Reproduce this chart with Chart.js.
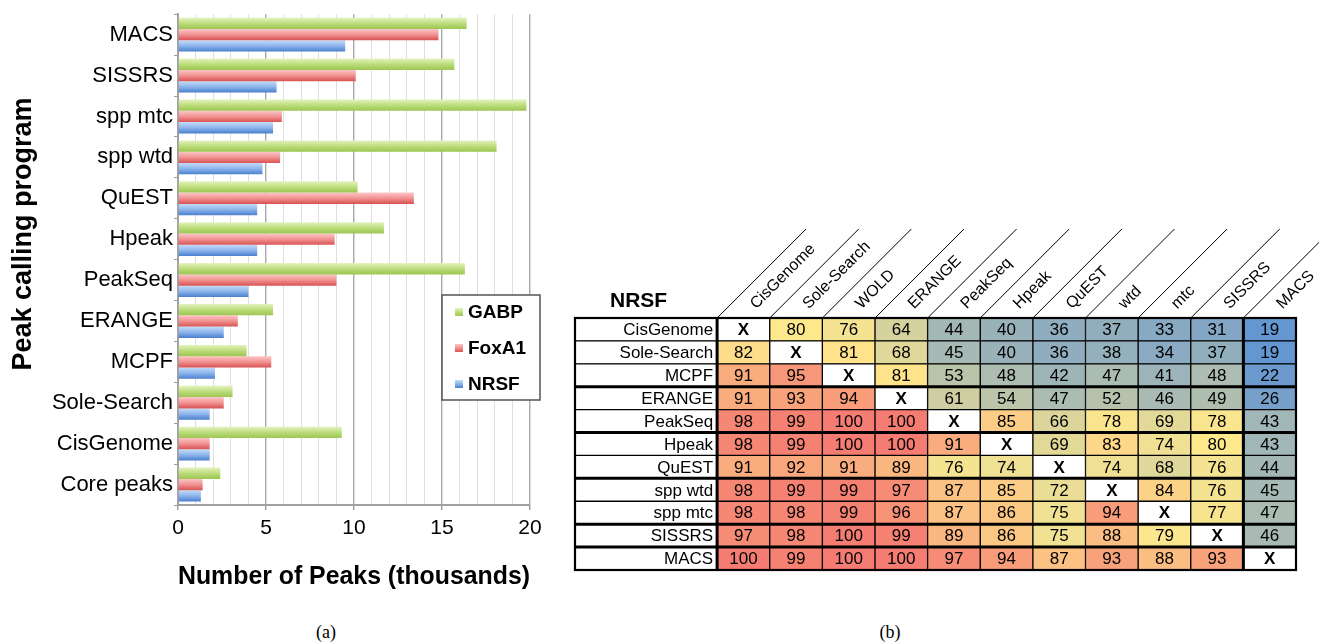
<!DOCTYPE html>
<html><head><meta charset="utf-8">
<script src="https://cdn.jsdelivr.net/npm/chart.js@4.4.1/dist/chart.umd.min.js"></script>
<style>
html,body{margin:0;padding:0;background:#fff;width:1319px;height:644px;overflow:hidden;font-family:"Liberation Sans",Arial,sans-serif;}
#wa{position:absolute;left:0;top:0;width:560px;height:600px;}
#wb{position:absolute;left:560px;top:200px;width:759px;height:400px;}
.cap{position:absolute;font-family:"Liberation Serif","Times New Roman",serif;font-size:18px;color:#000;transform:translate(-50%,-50%);}
</style></head><body>
<div id="wa"><canvas id="ca"></canvas></div>
<div id="wb"><canvas id="cb"></canvas></div>
<div class="cap" style="left:326px;top:632px">(a)</div>
<div class="cap" style="left:890px;top:632px">(b)</div>
<script>
// ---------- data: panel (a) ----------
const programs = ['MACS','SISSRS','spp mtc','spp wtd','QuEST','Hpeak','PeakSeq','ERANGE','MCPF','Sole-Search','CisGenome','Core peaks'];
const gabpPeaks  = [16.4, 15.7, 19.8, 18.1, 10.2, 11.7, 16.3, 5.4, 3.9, 3.1, 9.3, 2.4];
const foxa1Peaks = [14.8, 10.1, 5.9, 5.8, 13.4, 8.9, 9.0, 3.4, 5.3, 2.6, 1.8, 1.4];
const nrsfPeaks  = [9.5, 5.6, 5.4, 4.8, 4.5, 4.5, 4.0, 2.6, 2.1, 1.8, 1.8, 1.3];
const xTickLabels = [0, 5, 10, 15, 20];

// ---------- data: panel (b) ----------
const tableRows = ['CisGenome','Sole-Search','MCPF','ERANGE','PeakSeq','Hpeak','QuEST','spp wtd','spp mtc','SISSRS','MACS'];
const tableCols = ['CisGenome','Sole-Search','WOLD','ERANGE','PeakSeq','Hpeak','QuEST','wtd','mtc','SISSRS','MACS'];
const overlap = [
  [null, 80, 76, 64, 44, 40, 36, 37, 33, 31, 19],
  [82, null, 81, 68, 45, 40, 36, 38, 34, 37, 19],
  [91, 95, null, 81, 53, 48, 42, 47, 41, 48, 22],
  [91, 93, 94, null, 61, 54, 47, 52, 46, 49, 26],
  [98, 99, 100, 100, null, 85, 66, 78, 69, 78, 43],
  [98, 99, 100, 100, 91, null, 69, 83, 74, 80, 43],
  [91, 92, 91, 89, 76, 74, null, 74, 68, 76, 44],
  [98, 99, 99, 97, 87, 85, 72, null, 84, 76, 45],
  [98, 98, 99, 96, 87, 86, 75, 94, null, 77, 47],
  [97, 98, 100, 99, 89, 86, 75, 88, 79, null, 46],
  [100, 99, 100, 100, 97, 94, 87, 93, 88, 93, null]
];

const FONT = '"Liberation Sans", Arial, sans-serif';
Chart.defaults.font.family = FONT;
Chart.defaults.color = '#000';

// ---------- panel (a): horizontal grouped bars ----------
const CAT_PCT = 0.83;
const greenStops = ['#e4f3c0', '#bddd7c', '#9cc653'];
const redStops   = ['#fcc6c6', '#f29292', '#d85252'];
const blueStops  = ['#c4dbf8', '#8cb5ec', '#4a7fce'];

function barFill(stops) {
  return function (ctx) {
    const chart = ctx.chart;
    if (ctx.type !== 'data' || !chart.chartArea || !chart.scales.y) return stops[1];
    const ys = chart.scales.y;
    const n = chart.data.labels.length;
    const cat = (ys.bottom - ys.top) / n;
    const group = cat * CAT_PCT;
    const nd = chart.data.datasets.length;
    const bw = group / nd;
    const top = ys.getPixelForValue(ctx.dataIndex) - group / 2 + ctx.datasetIndex * bw;
    const g = chart.ctx.createLinearGradient(0, top, 0, top + bw);
    g.addColorStop(0, stops[0]); g.addColorStop(0.5, stops[1]); g.addColorStop(1, stops[2]);
    return g;
  };
}

const boxLegend = {
  id: 'boxLegend',
  afterDraw(chart, args, o) {
    const c = chart.ctx;
    c.save();
    c.fillStyle = '#fff';
    c.fillRect(o.left, o.top, o.width, o.height);
    c.strokeStyle = '#555'; c.lineWidth = 1.5;
    c.strokeRect(o.left, o.top, o.width, o.height);
    chart.data.datasets.forEach((ds, i) => {
      const cy = o.top + o.first + i * o.step;
      const sx = o.left + 13, s = 8;
      const g = c.createLinearGradient(0, cy - s / 2, 0, cy + s / 2);
      g.addColorStop(0, ds.stops[0]); g.addColorStop(0.5, ds.stops[1]); g.addColorStop(1, ds.stops[2]);
      c.fillStyle = g;
      c.fillRect(sx, cy - s / 2, s, s);
      c.fillStyle = '#000';
      c.font = 'bold 19px ' + FONT;
      c.textAlign = 'left'; c.textBaseline = 'middle';
      c.fillText(ds.label, sx + s + 5, cy + 1);
    });
    c.restore();
  }
};

const yTitle = {
  id: 'yTitle',
  afterDraw(chart, args, o) {
    const c = chart.ctx;
    c.save();
    c.translate(o.x, o.y);
    c.rotate(-Math.PI / 2);
    c.font = 'bold 27px ' + FONT;
    c.fillStyle = '#000';
    c.textAlign = 'center'; c.textBaseline = 'middle';
    c.fillText(o.text, 0, 0);
    c.restore();
  }
};

const isMajor = (c) => c.tick && xTickLabels.includes(c.tick.value);

new Chart(document.getElementById('ca'), {
  type: 'bar',
  data: {
    labels: programs,
    datasets: [
      { label: 'GABP', data: gabpPeaks, stops: greenStops, backgroundColor: barFill(greenStops) },
      { label: 'FoxA1', data: foxa1Peaks, stops: redStops, backgroundColor: barFill(redStops) },
      { label: 'NRSF', data: nrsfPeaks, stops: blueStops, backgroundColor: barFill(blueStops) }
    ]
  },
  options: {
    indexAxis: 'y',
    responsive: true,
    maintainAspectRatio: false,
    animation: false,
    categoryPercentage: CAT_PCT,
    barPercentage: 1.0,
    layout: { padding: { left: 0, right: 30, top: 14, bottom: 8 } },
    plugins: {
      legend: { display: false },
      tooltip: { enabled: false },
      boxLegend: { left: 442, top: 295, width: 98, height: 105, first: 17, step: 36 },
      yTitle: { x: 24, y: 234, text: 'Peak calling program' }
    },
    scales: {
      x: {
        min: 0, max: 20,
        ticks: {
          stepSize: 1, autoSkip: false, maxRotation: 0, padding: 6,
          font: { size: 21 }, color: '#000',
          callback: (v) => xTickLabels.includes(v) ? String(v) : ''
        },
        grid: {
          color: (c) => isMajor(c) ? '#a8a8a8' : '#dedede',
          lineWidth: (c) => isMajor(c) ? 1.4 : 1,
          tickColor: (c) => isMajor(c) ? '#999' : 'rgba(0,0,0,0)',
          tickLength: 5
        },
        border: { color: '#a0a0a0', width: 2 },
        title: { display: true, text: 'Number of Peaks (thousands)', font: { size: 25.5, weight: 'bold' }, color: '#000', padding: { top: 0, bottom: 0 } },
        afterFit: (s) => { s.height = 87; }
      },
      y: {
        ticks: { font: { size: 22 }, color: '#000', padding: 1 },
        grid: { drawOnChartArea: false, offset: true, tickLength: 4, color: '#a0a0a0' },
        border: { color: '#a0a0a0', width: 2 },
        afterFit: (s) => { s.width = 178; }
      }
    }
  },
  plugins: [boxLegend, yTitle]
});

// ---------- panel (b): overlap table as stacked unit bars ----------
const LABEL_W = 2.7;
const allVals = overlap.flat().filter(v => v != null).sort((a, b) => a - b);
const vMin = allVals[0], vMax = allVals[allVals.length - 1];
const vMid = (allVals[Math.floor((allVals.length - 1) / 2)] + allVals[Math.ceil((allVals.length - 1) / 2)]) / 2;
const cLow = [100, 150, 210], cMid = [254, 232, 140], cHigh = [245, 124, 114];
function mix(a, b, t) { return 'rgb(' + a.map((v, k) => Math.round(v + (b[k] - v) * t)).join(',') + ')'; }
function heatColor(v) {
  if (v == null) return '#ffffff';
  if (v <= vMid) return mix(cLow, cMid, (v - vMin) / (vMid - vMin));
  return mix(cMid, cHigh, (v - vMid) / (vMax - vMid));
}

const tableText = {
  id: 'tableText',
  afterDatasetsDraw(chart) {
    const c = chart.ctx, ca = chart.chartArea, xs = chart.scales.x;
    const labelMeta = chart.getDatasetMeta(0);
    c.save();
    c.fillStyle = '#000'; c.textBaseline = 'middle';
    c.font = '17px ' + FONT; c.textAlign = 'right';
    labelMeta.data.forEach((el, i) => c.fillText(tableRows[i], el.x - 4, el.y + 1));
    c.textAlign = 'center';
    tableCols.forEach((col, j) => {
      chart.getDatasetMeta(j + 1).data.forEach((el, i) => {
        const v = overlap[i][j];
        const cx = (el.x + el.base) / 2;
        if (v == null) { c.font = 'bold 17px ' + FONT; c.fillText('X', cx, el.y + 1); }
        else { c.font = '17px ' + FONT; c.fillText(String(v), cx, el.y + 1); }
      });
    });
    c.strokeStyle = '#000';
    c.lineWidth = 3;
    [2, 4, 6, 8, 9].forEach(k => {
      const y = (labelMeta.data[k].y + labelMeta.data[k + 1].y) / 2;
      c.beginPath(); c.moveTo(ca.left, y); c.lineTo(ca.right, y); c.stroke();
    });
    [LABEL_W, LABEL_W + tableCols.length - 1].forEach(v => {
      const x = xs.getPixelForValue(v);
      c.beginPath(); c.moveTo(x, ca.top); c.lineTo(x, ca.bottom); c.stroke();
    });
    c.lineWidth = 2.2;
    c.strokeRect(ca.left, ca.top, ca.right - ca.left, ca.bottom - ca.top);
    c.restore();
  },
  afterDraw(chart) {
    const c = chart.ctx, ca = chart.chartArea, xs = chart.scales.x;
    const cellW = xs.getPixelForValue(LABEL_W + 1) - xs.getPixelForValue(LABEL_W);
    c.save();
    c.strokeStyle = '#000'; c.lineWidth = 1; c.fillStyle = '#000';
    tableCols.forEach((name, j) => {
      const L = xs.getPixelForValue(LABEL_W + j);
      c.beginPath(); c.moveTo(L, ca.top); c.lineTo(L + 89, ca.top - 89); c.stroke();
      c.save();
      c.translate(L + cellW / 2 - 1, ca.top - 1);
      c.rotate(-Math.PI / 4);
      c.font = '16px ' + FONT; c.textAlign = 'left'; c.textBaseline = 'middle';
      c.fillText(name, 15, 0);
      c.restore();
    });
    c.font = 'bold 21px ' + FONT; c.textAlign = 'left'; c.textBaseline = 'alphabetic';
    c.fillText('NRSF', ca.left + 35, ca.top - 11);
    c.restore();
  }
};

new Chart(document.getElementById('cb'), {
  type: 'bar',
  data: {
    labels: tableRows,
    datasets: [
      { label: 'program', data: tableRows.map(() => LABEL_W), backgroundColor: '#ffffff', borderColor: '#000', borderWidth: 1, borderSkipped: false }
    ].concat(tableCols.map((col, j) => ({
      label: col,
      data: tableRows.map(() => 1),
      backgroundColor: tableRows.map((r, i) => heatColor(overlap[i][j])),
      borderColor: '#000', borderWidth: 1, borderSkipped: false
    })))
  },
  options: {
    indexAxis: 'y',
    responsive: true,
    maintainAspectRatio: false,
    animation: false,
    barPercentage: 1, categoryPercentage: 1,
    layout: { padding: { left: 15, right: 23, top: 118, bottom: 30 } },
    plugins: { legend: { display: false }, tooltip: { enabled: false } },
    scales: {
      x: { stacked: true, display: false, min: 0, max: LABEL_W + tableCols.length },
      y: { stacked: true, display: false }
    }
  },
  plugins: [tableText]
});
</script>
</body></html>
